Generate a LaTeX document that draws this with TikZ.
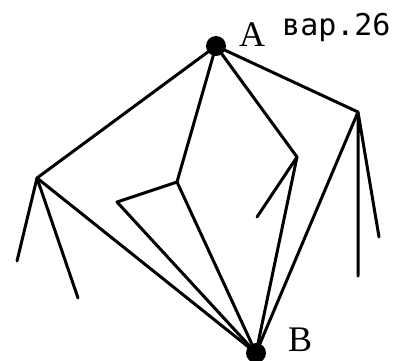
\documentclass[tikz,border=0pt]{standalone}
\usepackage{fontspec}
\setmainfont{Liberation Serif}
\newfontfamily\monofnt{DejaVu Sans Mono}
\begin{document}
\begin{tikzpicture}[x=1pt,y=-1pt,
  edge/.style={line width=3pt,line cap=round,line join=round},
  dotnode/.style={circle,fill=black,inner sep=0pt,minimum size=20pt}]
\useasboundingbox (0,0) rectangle (400,360);
\node[dotnode] (A) at (216,46) {};
\node[dotnode] (B) at (256,353) {};
\coordinate (L) at (37,178);
\coordinate (L1) at (17,261);
\coordinate (L2) at (78,298);
\coordinate (R) at (358,112);
\coordinate (R1) at (358,276);
\coordinate (R2) at (379,237);
\coordinate (C) at (177,182);
\coordinate (W) at (117,202);
\coordinate (D) at (297,157);
\coordinate (E) at (257,217);
\draw[edge] (A.center) -- (L) -- (B.center);
\draw[edge] (L1) -- (L) -- (L2);
\draw[edge] (A.center) -- (R) -- (B.center);
\draw[edge] (R1) -- (R) -- (R2);
\draw[edge] (A.center) -- (C) -- (B.center);
\draw[edge] (C) -- (W) -- (B.center);
\draw[edge] (A.center) -- (D) -- (B.center);
\draw[edge] (D) -- (E);
\node[anchor=base west,inner sep=0pt,font=\fontsize{36}{36}\selectfont] (lA) at (239,46) {A};
\node[anchor=base west,inner sep=0pt,font=\fontsize{36}{36}\selectfont] (lB) at (288,351) {B};
\node[anchor=base west,inner sep=0pt,font=\monofnt\fontsize{30}{30}\selectfont] (var) at (282,35) {вар.26};
\end{tikzpicture}
\end{document}
